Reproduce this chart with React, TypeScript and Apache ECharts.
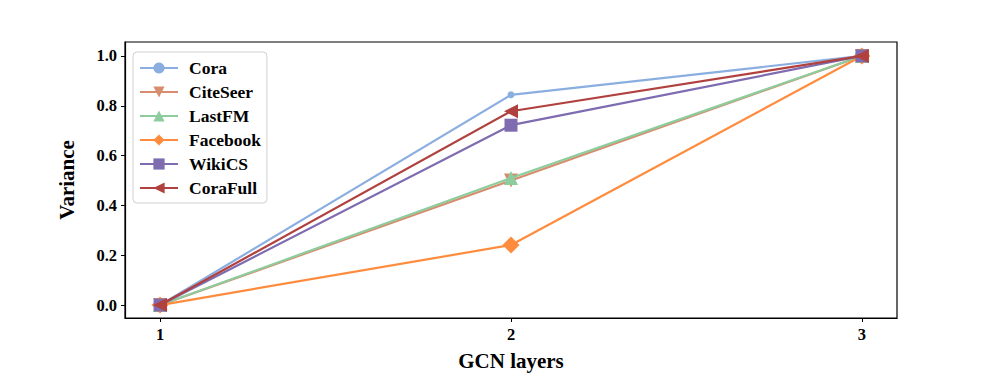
import React, { useEffect, useRef } from "react";
import * as echarts from "echarts";

const xValues = [1, 2, 3];
const xTicks = [1, 2, 3];
const yTicks = [0, 0.2, 0.4, 0.6, 0.8, 1.0];

const seriesNames = ["Cora", "CiteSeer", "LastFM", "Facebook", "WikiCS", "CoraFull"];
const cora = [0, 0.844, 1.0];
const citeSeer = [0, 0.5, 1.0];
const lastFM = [0, 0.51, 1.0];
const facebook = [0, 0.241, 1.0];
const wikiCS = [0, 0.722, 1.0];
const coraFull = [0, 0.778, 1.0];

const seriesValues = [cora, citeSeer, lastFM, facebook, wikiCS, coraFull];
const colors = ["#8aaee0", "#d88c6e", "#8dcc9c", "#ff8b3d", "#7e6bb0", "#b0413e"];
const symbols = ["circle", "triangle", "triangle", "diamond", "rect", "triangle"];
const symbolSizes = [7, 14, 14, 17, 13, 14];
const symbolRotates = [0, 180, 0, 0, 0, 90];

const FONT = "'Liberation Serif', 'DejaVu Serif', serif";

export default function App() {
  const ref = useRef<HTMLDivElement>(null);
  useEffect(() => {
    if (!ref.current) return;
    const chart = echarts.init(ref.current, null, { renderer: "svg" });
    chart.setOption({
      animation: false,
      backgroundColor: "#ffffff",
      grid: {
        left: 125,
        right: 100,
        top: 42,
        bottom: 56,
        outerBoundsMode: "none",
        containLabel: false,
        show: true,
        borderColor: "#000",
        borderWidth: 1.2,
        backgroundColor: "transparent",
      },
      legend: {
        orient: "vertical",
        left: 133,
        top: 52,
        data: seriesNames,
        itemWidth: 38,
        itemHeight: 14,
        itemGap: 6,
        padding: [7, 6, 6, 6],
        backgroundColor: "#fff",
        borderColor: "#d0d0d0",
        borderWidth: 1,
        borderRadius: 4,
        textStyle: { fontFamily: FONT, fontWeight: "bold", fontSize: 17.5, color: "#000", padding: [0, 0, 0, 6] },
      },
      xAxis: {
        type: "value",
        min: 0.9,
        max: 3.1,
        name: "GCN layers",
        nameLocation: "middle",
        nameGap: 32,
        nameTextStyle: { fontFamily: FONT, fontWeight: "bold", fontSize: 21, color: "#000" },
        axisLine: { show: true, onZero: false, lineStyle: { color: "#000", width: 1.2 } },
        axisTick: { show: true, length: 4, inside: false, customValues: xTicks, lineStyle: { color: "#000" } },
        axisLabel: {
          customValues: xTicks,
          fontFamily: FONT,
          fontWeight: "bold",
          fontSize: 16.5,
          color: "#000",
          margin: 8,
        },
        splitLine: { show: false },
      },
      yAxis: {
        type: "value",
        min: -0.052,
        max: 1.056,
        name: "Variance",
        nameLocation: "middle",
        nameGap: 48,
        nameTextStyle: { fontFamily: FONT, fontWeight: "bold", fontSize: 21, color: "#000" },
        axisLine: { show: true, onZero: false, lineStyle: { color: "#000", width: 1.2 } },
        axisTick: { show: true, length: 4, inside: false, customValues: yTicks, lineStyle: { color: "#000" } },
        axisLabel: {
          customValues: yTicks,
          formatter: (v: number) => v.toFixed(1),
          fontFamily: FONT,
          fontWeight: "bold",
          fontSize: 16.5,
          color: "#000",
          margin: 8,
        },
        splitLine: { show: false },
      },
      series: seriesNames.map((name, i) => ({
        name,
        type: "line",
        data: xValues.map((x, j) => [x, seriesValues[i][j]]),
        symbol: symbols[i],
        symbolSize: symbolSizes[i],
        symbolRotate: symbolRotates[i],
        showAllSymbol: true,
        color: colors[i],
        lineStyle: { color: colors[i], width: 2.2 },
        itemStyle: { color: colors[i] },
        z: 2 + i,
      })),
    });
    return () => chart.dispose();
  }, []);
  return (
    <div
      ref={ref}
      style={{ position: "fixed", left: 0, top: 0, width: 997, height: 374, background: "#fff" }}
    />
  );
}
